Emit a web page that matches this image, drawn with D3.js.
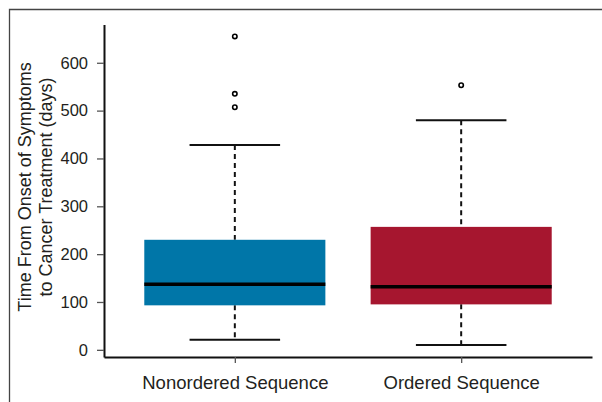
<!DOCTYPE html>
<html>
<head>
<meta charset="utf-8">
<script src="https://cdn.jsdelivr.net/npm/d3@7"></script>
<style>
  body { margin: 0; background: #fff; }
  text { font-family: "Liberation Sans", Arial, sans-serif; fill: #231f20; }
</style>
</head>
<body>
<script>
// box plot values (days)
const categories = ["Nonordered Sequence", "Ordered Sequence"];
const lowerWhisker = [21, 10];
const q1 = [93, 95];
const median = [137, 132];
const q3 = [230, 257];
const upperWhisker = [428, 480];
const outliers = [[655, 535, 507], [553]];
const colors = ["#0076a8", "#a6162f"];
const yTicks = [0, 100, 200, 300, 400, 500, 600];

let width = 602, height = 402;
let margin = {top: 24.5, right: 10, bottom: 45, left: 104};

let svg = d3.select("body").append("svg")
    .attr("width", width)
    .attr("height", height);

// outer frame (left + top only)
svg.append("path")
    .attr("d", "M9.5,402V9.5H602")
    .attr("fill", "none")
    .attr("stroke", "#444")
    .attr("stroke-width", 1.3);

let x = d3.scalePoint()
    .domain(categories)
    .range([margin.left, 592])
    .padding(0.578);

let y = d3.scaleLinear()
    .domain([-15, 680])
    .range([height - margin.bottom, margin.top]);

let boxW = x.step() * 0.8;
let capW = boxW / 2;

let boxes = categories.map((c, i) => ({
    cat: c, lo: lowerWhisker[i], q1: q1[i], med: median[i], q3: q3[i],
    hi: upperWhisker[i], out: outliers[i], color: colors[i]
}));

let g = svg.selectAll(".box")
    .data(boxes)
    .enter().append("g")
    .attr("class", "box");

// dashed whiskers
g.append("line")
    .attr("x1", d => x(d.cat)).attr("x2", d => x(d.cat))
    .attr("y1", d => y(d.hi)).attr("y2", d => y(d.q3))
    .attr("stroke", "#111").attr("stroke-width", 2)
    .attr("stroke-dasharray", "5,4");
g.append("line")
    .attr("x1", d => x(d.cat)).attr("x2", d => x(d.cat))
    .attr("y1", d => y(d.q1)).attr("y2", d => y(d.lo))
    .attr("stroke", "#111").attr("stroke-width", 2)
    .attr("stroke-dasharray", "5,4");

// caps
["hi", "lo"].forEach(k => {
    g.append("line")
        .attr("x1", d => x(d.cat) - capW / 2).attr("x2", d => x(d.cat) + capW / 2)
        .attr("y1", d => y(d[k])).attr("y2", d => y(d[k]))
        .attr("stroke", "#111").attr("stroke-width", 2);
});

// boxes
g.append("rect")
    .attr("x", d => x(d.cat) - boxW / 2)
    .attr("width", boxW)
    .attr("y", d => y(d.q3))
    .attr("height", d => y(d.q1) - y(d.q3))
    .attr("fill", d => d.color);

// medians
g.append("line")
    .attr("x1", d => x(d.cat) - boxW / 2).attr("x2", d => x(d.cat) + boxW / 2)
    .attr("y1", d => y(d.med)).attr("y2", d => y(d.med))
    .attr("stroke", "#000").attr("stroke-width", 3.5);

// outliers
g.selectAll(".out")
    .data(d => d.out.map(v => ({cat: d.cat, v: v})))
    .enter().append("circle")
    .attr("class", "out")
    .attr("cx", d => x(d.cat))
    .attr("cy", d => y(d.v))
    .attr("r", 2.2)
    .attr("fill", "#fff")
    .attr("stroke", "#000")
    .attr("stroke-width", 1.6);

// y axis
let yAxis = svg.append("g")
    .attr("transform", "translate(" + margin.left + ",0)")
    .call(d3.axisLeft(y).tickValues(yTicks).tickSize(7).tickSizeOuter(0).tickPadding(9));
yAxis.select(".domain").attr("stroke", "#111").attr("stroke-width", 2);
yAxis.selectAll(".tick line").attr("stroke", "#555").attr("stroke-width", 1.3);
yAxis.selectAll(".tick text").style("font-size", "16.5px").style("fill", "#231f20")
    .style("font-family", "'Liberation Sans', Arial, sans-serif");

// x axis
let xAxis = svg.append("g")
    .attr("transform", "translate(0," + (height - margin.bottom) + ")")
    .call(d3.axisBottom(x).tickSize(6).tickSizeOuter(0).tickPadding(12.5));
xAxis.select(".domain").attr("stroke", "#111").attr("stroke-width", 2);
xAxis.selectAll(".tick line").attr("stroke", "#555").attr("stroke-width", 1.3);
xAxis.selectAll(".tick text").style("font-size", "18.5px").style("fill", "#231f20")
    .style("font-family", "'Liberation Sans', Arial, sans-serif");

// y axis label (two lines)
let yl = svg.append("text")
    .attr("transform", "translate(25," + 187 + ") rotate(-90)")
    .attr("text-anchor", "middle")
    .style("font-size", "18px");
yl.append("tspan").attr("x", 0).attr("dy", "0.35em").text("Time From Onset of Symptoms");
yl.append("tspan").attr("x", 0).attr("dy", "21").text("to Cancer Treatment (days)");
</script>
</body>
</html>
